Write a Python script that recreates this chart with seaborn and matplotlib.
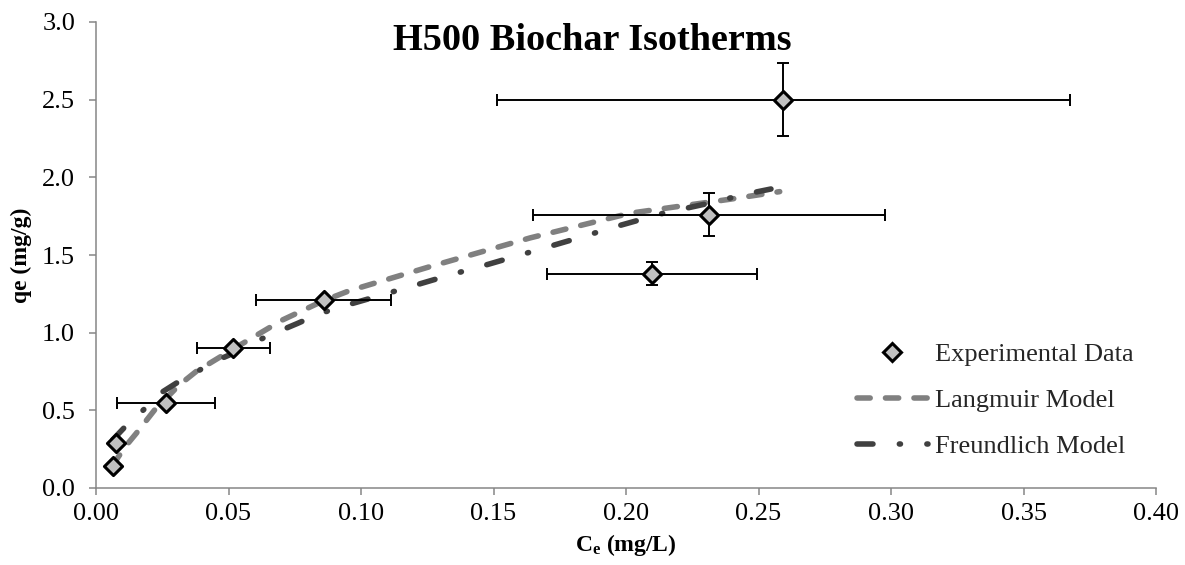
import numpy as np
import pandas as pd
import matplotlib
matplotlib.use("Agg")
import matplotlib.pyplot as plt
import seaborn as sns
from matplotlib.lines import Line2D
from matplotlib.ticker import MultipleLocator, FormatStrFormatter

# ---- data ----
ce = [0.0063, 0.0075, 0.0264, 0.0518, 0.0859, 0.2098, 0.2314, 0.2594]
qe = [0.14, 0.29, 0.55, 0.90, 1.21, 1.38, 1.76, 2.50]
ce_err = [0.0, 0.0, 0.0184, 0.0138, 0.0256, 0.0396, 0.0664, 0.108]
qe_err = [0.0, 0.0, 0.0, 0.0, 0.0, 0.073, 0.137, 0.235]

lang_ce = [0.0063, 0.0084, 0.0122, 0.0151, 0.022, 0.0314, 0.0377, 0.0518, 0.0704,
           0.0859, 0.0956, 0.126, 0.1638, 0.2015, 0.2392, 0.258]
lang_qe = [0.14, 0.20, 0.29, 0.35, 0.50, 0.663, 0.749, 0.895, 1.082,
           1.206, 1.27, 1.425, 1.61, 1.769, 1.859, 1.908]

freu_ce = [0.0063, 0.0113, 0.0176, 0.0252, 0.0302, 0.0459, 0.0503, 0.0606, 0.0686,
           0.0761, 0.084, 0.0925, 0.108, 0.1166, 0.1323, 0.1484, 0.1653, 0.1811,
           0.197, 0.2141, 0.2302, 0.2455, 0.2547]
freu_qe = [0.31, 0.40, 0.498, 0.62, 0.674, 0.824, 0.856, 0.946, 1.006,
           1.06, 1.12, 1.167, 1.243, 1.286, 1.365, 1.442, 1.526, 1.605,
           1.687, 1.769, 1.829, 1.893, 1.925]

title = "H500 Biochar Isotherms"
labels = ["Experimental Data", "Langmuir Model", "Freundlich Model"]

# ---- style ----
sns.set_theme(style="white")
plt.rcParams['font.family'] = ['Liberation Serif', 'DejaVu Serif']
plt.rcParams['lines.scale_dashes'] = False
plt.rcParams['mathtext.fontset'] = 'custom'
plt.rcParams['mathtext.rm'] = 'Liberation Serif'
plt.rcParams['mathtext.bf'] = 'Liberation Serif:bold'
plt.rcParams['mathtext.it'] = 'Liberation Serif:italic'

LANG_COLOR = '#808080'
FREU_COLOR = '#404040'
LW = 4.0
LANG_DASH = [9.5, 11.0]
FREU_DASH = [11.5, 19.0, 0.8, 19.0]
AX_COLOR = '#868686'
FILL = '#c0c0c0'

fig = plt.figure(figsize=(11.85, 5.65), dpi=100)
ax = fig.add_axes([96 / 1185, 1 - 488 / 565, 1060 / 1185, 466 / 565])

lang_df = pd.DataFrame({'Ce': lang_ce, 'qe': lang_qe})
sns.lineplot(data=lang_df, x='Ce', y='qe', ax=ax, sort=False, estimator=None,
             color=LANG_COLOR, linewidth=LW, zorder=2)
ln = ax.lines[-1]
ln.set_dashes(LANG_DASH)
ln.set_dash_capstyle('round')

freu_df = pd.DataFrame({'Ce': freu_ce, 'qe': freu_qe})
sns.lineplot(data=freu_df, x='Ce', y='qe', ax=ax, sort=False, estimator=None,
             color=FREU_COLOR, linewidth=LW, zorder=2)
ln = ax.lines[-1]
ln.set_dashes(FREU_DASH)
ln.set_dash_capstyle('round')

ax.errorbar(ce, qe, xerr=ce_err, yerr=qe_err, fmt='none', ecolor='black',
            elinewidth=1.4, capsize=4.5, capthick=1.4, zorder=3)

sns.scatterplot(x=ce, y=qe, ax=ax, marker='D', s=85, color=FILL,
                edgecolor='black', linewidth=2.2, zorder=4)

ax.set_xlim(0, 0.40)
ax.set_ylim(0, 3.0)
ax.xaxis.set_major_locator(MultipleLocator(0.05))
ax.yaxis.set_major_locator(MultipleLocator(0.5))
ax.xaxis.set_major_formatter(FormatStrFormatter('%.2f'))
ax.yaxis.set_major_formatter(FormatStrFormatter('%.1f'))
ax.grid(False)

for s in ['top', 'right']:
    ax.spines[s].set_visible(False)
for s in ['left', 'bottom']:
    ax.spines[s].set_color(AX_COLOR)
    ax.spines[s].set_linewidth(1.1)

ax.tick_params(axis='both', direction='out', length=5, width=1.1, color=AX_COLOR,
               labelsize=19, labelcolor='black', left=True, bottom=True)
ax.tick_params(axis='x', pad=6)
ax.tick_params(axis='y', pad=10)

ax.set_ylabel("qe (mg/g)", fontsize=17, fontweight='bold', color='black')
ax.yaxis.set_label_coords(-0.0604, 0.5)
ax.set_xlabel(r"$\mathbf{C}_{\mathbf{e}}$ (mg/L)", fontsize=17, fontweight='bold', color='black')
ax.xaxis.set_label_coords(0.5, -0.094)

fig.text(0.5, 1 - 40 / 565, title, fontsize=27.5, fontweight='bold',
         ha='center', va='center', color='black')

handles = [
    Line2D([], [], marker='D', linestyle='none', markerfacecolor=FILL,
           markeredgecolor='black', markersize=9.3, markeredgewidth=2.2),
    Line2D([], [], color=LANG_COLOR, linewidth=LW, dashes=LANG_DASH,
           dash_capstyle='round'),
    Line2D([], [], color=FREU_COLOR, linewidth=LW, dashes=FREU_DASH,
           dash_capstyle='round'),
]
ax.legend(handles, labels, loc='upper left', bbox_to_anchor=(857 / 1185, 1 - 343 / 565),
          bbox_transform=fig.transFigure, frameon=False, fontsize=19,
          handlelength=2.69, handletextpad=0.27, borderpad=0, borderaxespad=0,
          labelspacing=0.85)

fig.savefig("out.png", dpi=100)
